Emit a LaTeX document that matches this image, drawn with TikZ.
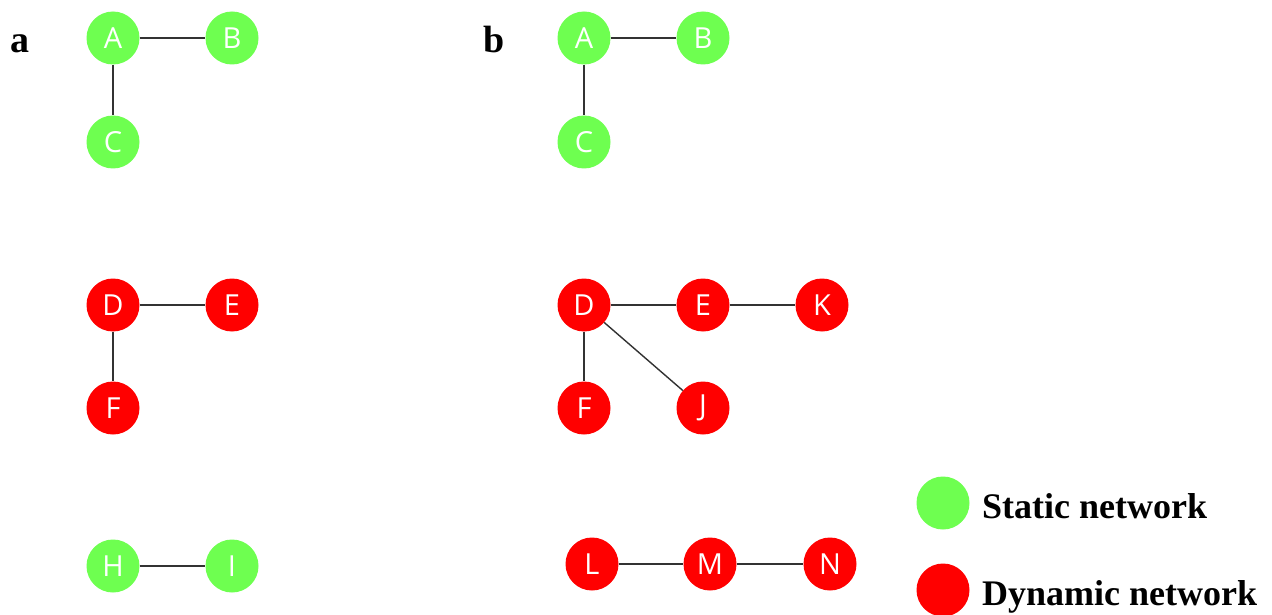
\documentclass[tikz,border=0pt]{standalone}
\usepackage{fontspec}
\newfontfamily\labelfont{Liberation Serif}
\newfontfamily\vertexfont{Open Sans}
\definecolor{stgreen}{RGB}{110,255,80}
\definecolor{dynred}{RGB}{255,0,0}
\definecolor{linkgray}{RGB}{50,50,50}
\tikzset{
  vtx/.style={circle, minimum size=53pt, inner sep=0pt, text=white,
    font=\vertexfont\fontsize{29}{29}\selectfont},
  static/.style={vtx, fill=stgreen},
  dynamic/.style={vtx, fill=dynred},
  link/.style={draw=linkgray, line width=1.4pt},
  panel/.style={anchor=base west, inner sep=0pt,
    font=\labelfont\bfseries\fontsize{38}{38}\selectfont},
  legendtext/.style={anchor=base west, inner sep=0pt,
    font=\labelfont\bfseries\fontsize{36}{36}\selectfont},
}
\begin{document}
\begin{tikzpicture}[x=1pt,y=-1pt]
\useasboundingbox (0,0) rectangle (1272,615);
\fill[white] (0,0) rectangle (1272,615);

% panel labels
\node[panel] (la) at (10,53) {a};
\node[panel] (lb) at (483,53) {b};

% ---- panel a ----
\node[static] (aA) at (113,38) {A};
\node[static] (aB) at (232,38) {B};
\node[static] (aC) at (113,142) {C};
\node[dynamic] (aD) at (113,305) {D};
\node[dynamic] (aE) at (232,305) {E};
\node[dynamic] (aF) at (113,408) {F};
\node[static] (aH) at (113,566) {H};
\node[static] (aI) at (232,566) {I};
\draw[link] (aA) -- (aB);
\draw[link] (aA) -- (aC);
\draw[link] (aD) -- (aE);
\draw[link] (aD) -- (aF);
\draw[link] (aH) -- (aI);

% ---- panel b ----
\node[static] (bA) at (584,38) {A};
\node[static] (bB) at (703,38) {B};
\node[static] (bC) at (584,142) {C};
\node[dynamic] (bD) at (584,305) {D};
\node[dynamic] (bE) at (703,305) {E};
\node[dynamic] (bK) at (822,305) {K};
\node[dynamic] (bF) at (584,408) {F};
\node[dynamic] (bJ) at (703,408) {J};
\node[dynamic] (bL) at (592,564) {L};
\node[dynamic] (bM) at (710,564) {M};
\node[dynamic] (bN) at (830,564) {N};
\draw[link] (bA) -- (bB);
\draw[link] (bA) -- (bC);
\draw[link] (bD) -- (bE);
\draw[link] (bE) -- (bK);
\draw[link] (bD) -- (bF);
\draw[link] (bD) -- (bJ);
\draw[link] (bL) -- (bM);
\draw[link] (bM) -- (bN);

% ---- legend ----
\node[static] (kS) at (943,503) {};
\node[dynamic] (kD) at (943,590) {};
\node[legendtext] (tS) at (982,518) {Static network};
\node[legendtext] (tD) at (982,605) {Dynamic network};
\end{tikzpicture}
\end{document}
